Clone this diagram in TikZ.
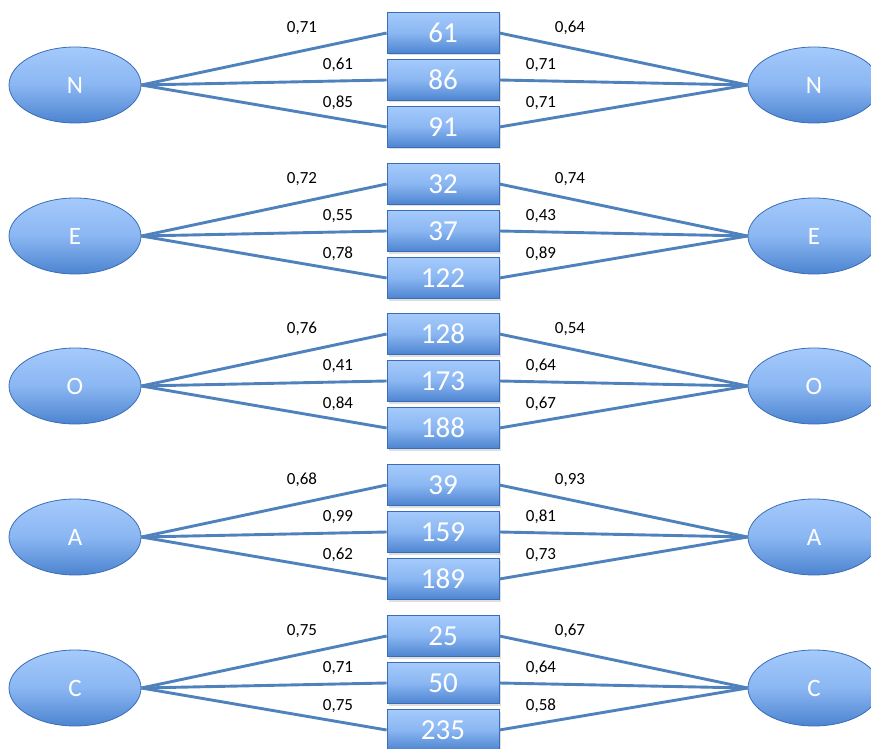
\documentclass[tikz,border=0pt]{standalone}
\usepackage{fontspec}
\setmainfont{Carlito}
\usetikzlibrary{shapes.geometric,shadows}
\definecolor{edgeblue}{HTML}{4F81BD}
\definecolor{fillTop}{HTML}{A5CAFC}
\definecolor{fillMid}{HTML}{8AB6F2}
\definecolor{fillBot}{HTML}{4C84D0}
\definecolor{borderblue}{HTML}{3A6DB5}
\tikzset{
  gradfill/.style={top color=fillTop, bottom color=fillBot, middle color=fillMid},
  ell/.style={ellipse, draw=borderblue, line width=0.8pt, gradfill,
    minimum width=132pt, minimum height=76pt, inner sep=0pt, text=white, font=\fontsize{25}{25}\selectfont},
  valbox/.style={rectangle, draw=borderblue, line width=0.8pt, gradfill,
    minimum width=112pt, minimum height=41pt, inner sep=0pt, text=white, font=\fontsize{29}{29}\selectfont,
    drop shadow={opacity=0.25, shadow xshift=1.5pt, shadow yshift=-2pt}},
  link/.style={draw=edgeblue, line width=2.9pt},
  wlab/.style={font=\fontsize{17}{17}\selectfont, text=black, inner sep=0pt}
}
\begin{document}
\begin{tikzpicture}[x=1pt,y=-1pt]
\useasboundingbox (0,0) rectangle (871,749);
\foreach \L/\cy/\a/\b/\c/\la/\lb/\lc/\ra/\rb/\rc/\i in {
  N/85/61/86/91/{0,71}/{0,61}/{0,85}/{0,64}/{0,71}/{0,71}/1,
  E/236/32/37/122/{0,72}/{0,55}/{0,78}/{0,74}/{0,43}/{0,89}/2,
  O/386/128/173/188/{0,76}/{0,41}/{0,84}/{0,54}/{0,64}/{0,67}/3,
  A/537/39/159/189/{0,68}/{0,99}/{0,62}/{0,93}/{0,81}/{0,73}/4,
  C/688/25/50/235/{0,75}/{0,71}/{0,75}/{0,67}/{0,64}/{0,58}/5}{
  \node[ell] (l\i) at (75,\cy) {\L};
  \node[ell] (r\i) at (814,\cy) {\L};
  \node[valbox] (b\i a) at (443,\cy-52) {\a};
  \node[valbox] (b\i b) at (443,\cy-5) {\b};
  \node[valbox] (b\i c) at (443,\cy+42) {\c};
  \draw[link] (l\i.east) -- (b\i a.west);
  \draw[link] (l\i.east) -- (b\i b.west);
  \draw[link] (l\i.east) -- (b\i c.west);
  \draw[link] (b\i a.east) -- (r\i.west);
  \draw[link] (b\i b.east) -- (r\i.west);
  \draw[link] (b\i c.east) -- (r\i.west);
  \node[wlab] (la\i) at (302,\cy-57) {\la};
  \node[wlab] (lb\i) at (338,\cy-20) {\lb};
  \node[wlab] (lc\i) at (338,\cy+18) {\lc};
  \node[wlab] (ra\i) at (570,\cy-57) {\ra};
  \node[wlab] (rb\i) at (541,\cy-20) {\rb};
  \node[wlab] (rc\i) at (541,\cy+18) {\rc};
}
\end{tikzpicture}
\end{document}
